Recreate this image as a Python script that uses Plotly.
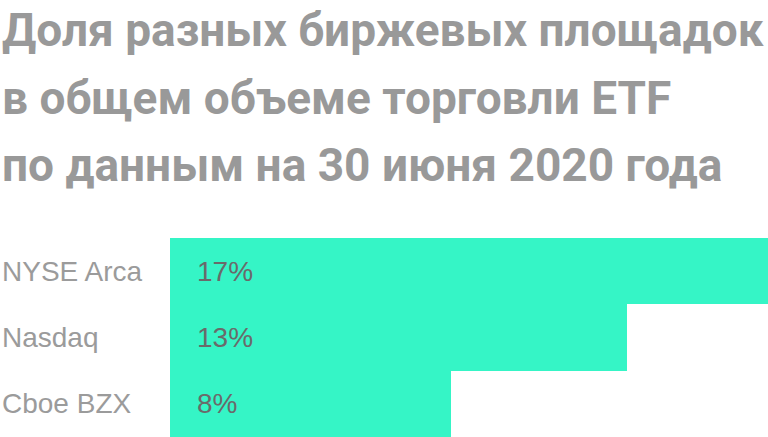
import plotly.graph_objects as go

categories = ["NYSE Arca", "Nasdaq", "Cboe BZX"]
values = [17, 13, 8]
title_lines = [
    "Доля разных биржевых площадок",
    "в общем объеме торговли ETF",
    "по данным на 30 июня 2020 года",
]

W, H = 768, 437
ML, MR, MT, MB = 170, 0, 238, 0
ph = H - MT - MB
pw = W - ML - MR

def py(ypx):
    return (H - MB - ypx) / ph

def px(xpx):
    return (xpx - ML) / pw

fig = go.Figure(go.Bar(
    x=values, y=categories, orientation="h",
    marker=dict(color="#35f5c6", line=dict(width=0)),
    width=1.0,
    hoverinfo="skip",
))

annotations = []
for i, (line, ypix) in enumerate(zip(title_lines, [29.5, 97.5, 164.5])):
    annotations.append(dict(
        text=line, xref="paper", yref="paper", x=px(0), y=py(ypix),
        xanchor="left", yanchor="middle", showarrow=False,
        font=dict(family="Roboto", size=46, color="#999999", weight="bold"),
    ))
for c, v in zip(categories, values):
    annotations.append(dict(
        text=c, xref="paper", yref="y", x=px(0), y=c,
        xanchor="left", yanchor="middle", showarrow=False,
        font=dict(family="Liberation Sans", size=28, color="#9b9b9b"),
    ))
    annotations.append(dict(
        text=f"{v}%", xref="x", yref="y", x=0, y=c, xshift=25,
        xanchor="left", yanchor="middle", showarrow=False,
        font=dict(family="Liberation Sans", size=28, color="#6a6a6a"),
    ))

fig.update_layout(
    width=W, height=H,
    margin=dict(l=ML, r=MR, t=MT, b=MB, pad=0),
    paper_bgcolor="white", plot_bgcolor="white",
    bargap=0,
    xaxis=dict(range=[0, 17], visible=False, fixedrange=True),
    yaxis=dict(autorange="reversed", visible=False, fixedrange=True),
    showlegend=False,
    annotations=annotations,
)

fig.write_html(
    "out.html",
    config={"displayModeBar": False},
    post_script="document.body.style.margin='0px';document.body.style.overflow='hidden';",
)
